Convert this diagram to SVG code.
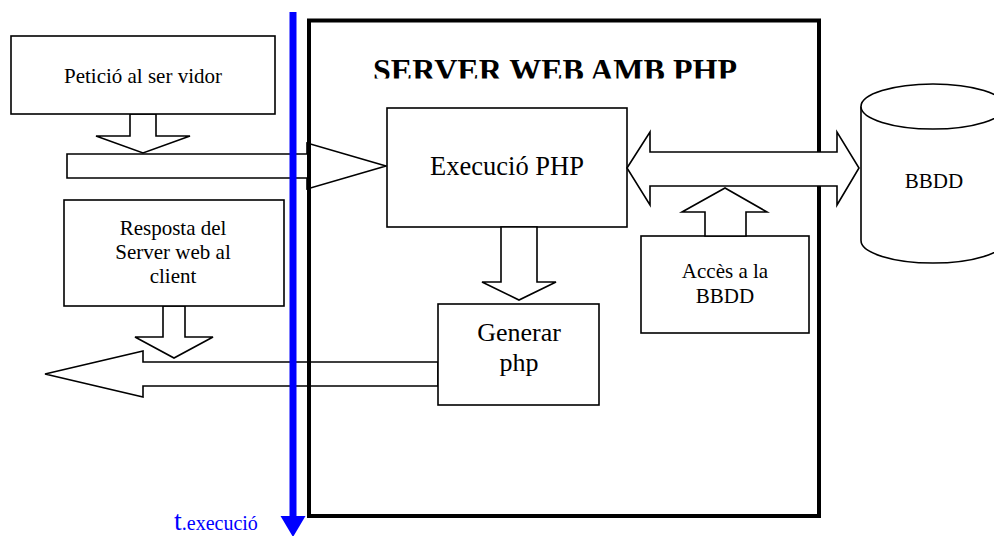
<svg xmlns="http://www.w3.org/2000/svg" width="994" height="536" viewBox="0 0 994 536">
  <style>
    .box { fill: #ffffff; stroke: #000000; stroke-width: 1.6; }
    .blk { fill: #ffffff; stroke: #000000; stroke-width: 1.6; stroke-linejoin: miter; }
    text { font-family: 'Liberation Serif', 'DejaVu Serif', serif; }
    .txt { fill: #000000; text-anchor: middle; }
    .title { font-weight: bold; font-size: 32px; fill: #000000; }
    .time { fill: #0000ff; }
  </style>
  <defs>
    <clipPath id="titleClip">
      <rect x="300" y="40" width="500" height="38.5"/>
    </clipPath>
  </defs>

  <rect width="994" height="536" fill="#ffffff"/>

  <!-- Block arrows crossing the server boundary -->
  <g id="connectors">
    <!-- request into the server -->
    <polygon id="arrow-request" class="blk" points="67,154 307,154 307,143 386,166 307,189 307,178 67,178"/>
    <!-- response back to the client -->
    <polygon id="arrow-response" class="blk" points="45,374 143,351 143,362 438,362 438,386 143,386 143,397"/>
    <!-- label arrows -->
    <polygon id="arrow-peticio" class="blk" points="130,114 130,136 96,136 143,153 190,136 156,136 156,114"/>
    <polygon id="arrow-resposta" class="blk" points="163,306 163,337 135,337 174,358 213,337 185,337 185,306"/>
  </g>

  <!-- Server frame -->
  <g id="server">
    <rect x="309" y="20.5" width="510" height="495.5" fill="none" stroke="#000000" stroke-width="4"/>
    <text class="title" x="373" y="81" textLength="364" lengthAdjust="spacingAndGlyphs" clip-path="url(#titleClip)" font-family="Liberation Serif, serif">SERVER WEB AMB PHP</text>
  </g>

  <!-- Time axis -->
  <g id="time-axis">
    <rect x="289.5" y="12" width="7" height="506" fill="#0000ff"/>
    <polygon points="280.5,516 305.5,516 293,537" fill="#0000ff"/>
    <text class="time" x="174" y="530" font-family="Liberation Serif, serif"><tspan font-size="28">t</tspan><tspan font-size="20">.execució</tspan></text>
  </g>

  <!-- Client-side labels -->
  <g id="peticio">
    <rect class="box" x="11" y="36" width="264" height="78"/>
    <text class="txt" font-size="21" x="143" y="83" font-family="Liberation Serif, serif">Petició al ser vidor</text>
  </g>

  <g id="resposta">
    <rect class="box" x="64" y="200" width="220" height="106"/>
    <text class="txt" font-size="21" x="173" y="235" font-family="Liberation Serif, serif">Resposta del</text>
    <text class="txt" font-size="21" x="173" y="259" font-family="Liberation Serif, serif">Server web al</text>
    <text class="txt" font-size="21" x="173" y="283" font-family="Liberation Serif, serif">client</text>
  </g>

  <!-- Inside the server -->
  <g id="execucio">
    <rect class="box" x="387" y="108" width="240" height="119"/>
    <text class="txt" font-size="26.5" x="507" y="175" font-family="Liberation Serif, serif">Execució PHP</text>
  </g>

  <g id="arrow-generar">
    <polygon class="blk" points="501,227 501,282 482,282 519,300 556,282 537,282 537,227"/>
  </g>

  <g id="generar">
    <rect class="box" x="438" y="304" width="161" height="101"/>
    <text class="txt" font-size="26" x="519" y="341" font-family="Liberation Serif, serif">Generar</text>
    <text class="txt" font-size="26" x="519" y="371" font-family="Liberation Serif, serif">php</text>
  </g>

  <g id="acces">
    <rect class="box" x="641" y="236" width="168" height="97"/>
    <text class="txt" font-size="21" x="725" y="278" font-family="Liberation Serif, serif">Accès a la</text>
    <text class="txt" font-size="21" x="725" y="303" font-family="Liberation Serif, serif">BBDD</text>
  </g>

  <g id="arrow-acces">
    <polygon class="blk" points="705,236 705,212 682,212 725,188 767,212 746,212 746,236"/>
  </g>

  <!-- Two-way link between PHP and the database -->
  <g id="arrow-bbdd">
    <polygon class="blk" points="627,168 650,132 650,152 837,152 837,132 859,168 837,205 837,186 650,186 650,205"/>
  </g>

  <!-- Database -->
  <g id="bbdd">
    <path class="box" d="M861,106.5 L861,240.5 A72,22.5 0 0 0 1005,240.5 L1005,106.5"/>
    <ellipse class="box" cx="933" cy="106.5" rx="72" ry="22.5"/>
    <text class="txt" font-size="21" x="934" y="188" font-family="Liberation Serif, serif">BBDD</text>
  </g>
</svg>
